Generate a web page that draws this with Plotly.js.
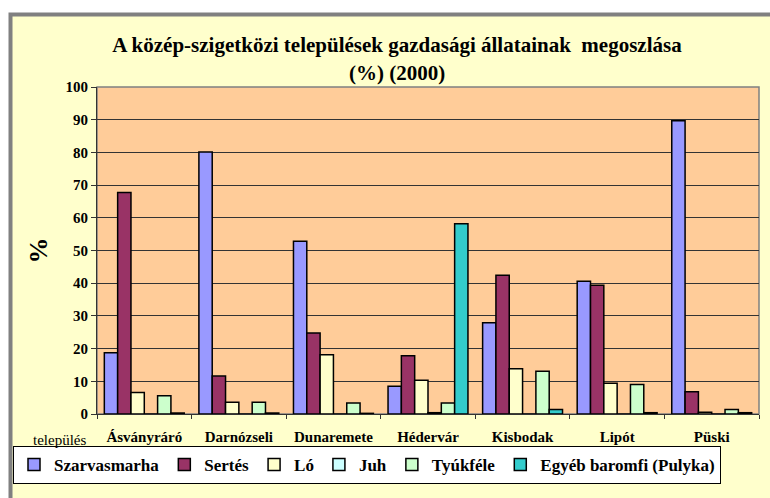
<!DOCTYPE html>
<html>
<head>
<meta charset="utf-8">
<script src="https://cdn.plot.ly/plotly-3.0.1.min.js"></script>
<style>
  html, body { margin: 0; padding: 0; background: #ffffff; }
  #chart { width: 770px; height: 498px; }
</style>
</head>
<body>
<div id="chart"></div>
<script>
// települések (categories)
var telepulesek = ['Ásványráró', 'Darnózseli', 'Dunaremete', 'Hédervár', 'Kisbodak', 'Lipót', 'Püski'];

// állatfajok (series) - values in %
var szarvasmarha = [18.7, 80.1, 52.8, 8.5, 27.9, 40.6, 89.7];
var sertes       = [67.7, 11.6, 24.8, 17.8, 42.4, 39.4, 6.8];
var lo           = [6.6, 3.6, 18.1, 10.3, 13.8, 9.4, 0.5];
var juh          = [0, 0, 0, 0.4, 0, 0, 0];
var tyukfele     = [5.6, 3.6, 3.4, 3.4, 13.1, 9.0, 1.4];
var egyeb        = [0.3, 0.3, 0.2, 58.2, 1.4, 0.4, 0.4];

var seriesNames  = ['Szarvasmarha', 'Sertés', 'Ló', 'Juh', 'Tyúkféle', 'Egyéb baromfi (Pulyka)'];
var seriesColors = ['#9999ff', '#993366', '#ffffcc', '#ccffff', '#ccffcc', '#33cccc'];
var seriesValues = [szarvasmarha, sertes, lo, juh, tyukfele, egyeb];

var fontName = 'Liberation Serif';

var data = seriesValues.map(function (vals, i) {
    return {
        type: 'bar',
        name: seriesNames[i],
        x: telepulesek,
        y: vals,
        marker: {
            color: seriesColors[i],
            line: { color: '#000000', width: 1.5 }
        },
        hoverinfo: 'x+y+name'
    };
});

// plot area in pixels: x 97..759, y 87..414
var layout = {
    width: 770,
    height: 498,
    margin: { l: 97, r: 11, t: 87, b: 84 },
    paper_bgcolor: '#ffffff',
    plot_bgcolor: 'rgba(0,0,0,0)',
    font: { family: fontName, color: '#000000' },
    barmode: 'group',
    bargap: 0.155,
    bargroupgap: 0,
    showlegend: true,
    title: {
        text: '<b>A közép-szigetközi települések gazdasági állatainak  megoszlása</b>',
        font: { family: fontName, size: 21, color: '#000000' },
        xref: 'container',
        x: 0.5156,
        xanchor: 'center',
        yref: 'container',
        y: 1 - 45 / 498,
        yanchor: 'middle'
    },
    xaxis: {
        type: 'category',
        showline: true,
        linecolor: '#333333',
        linewidth: 1,
        ticks: 'outside',
        tickson: 'boundaries',
        ticklen: 4,
        tickcolor: '#333333',
        ticklabelstandoff: 9,
        tickfont: { family: fontName, size: 15, color: '#000000', weight: 'bold' },
        showgrid: false,
        fixedrange: true
    },
    yaxis: {
        range: [0, 100],
        dtick: 10,
        showline: true,
        linecolor: '#333333',
        linewidth: 1,
        ticks: 'outside',
        ticklen: 5,
        tickcolor: '#333333',
        tickfont: { family: fontName, size: 15, color: '#000000', weight: 'bold' },
        showgrid: true,
        gridcolor: '#333333',
        gridwidth: 1,
        zeroline: false,
        title: {
            text: '<b>%</b>',
            font: { family: fontName, size: 26, color: '#000000' },
            standoff: 10
        },
        fixedrange: true
    },
    legend: {
        orientation: 'h',
        x: (13 - 97) / 662,
        xanchor: 'left',
        y: (414 - 446) / 327,
        yanchor: 'top',
        bgcolor: '#ffffff',
        bordercolor: '#000000',
        borderwidth: 1,
        font: { family: fontName, size: 17, color: '#000000', weight: 'bold' },
        traceorder: 'normal'
    },
    shapes: [
        // outer chart frame (light yellow with grey border)
        {
            type: 'rect', xref: 'paper', yref: 'paper', layer: 'below',
            x0: (10.5 - 97) / 662, x1: (800 - 97) / 662,
            y0: (414 - 540) / 327, y1: (414 - 14.5) / 327,
            fillcolor: '#ffffcc',
            line: { color: '#808080', width: 4 }
        },
        // plot area
        {
            type: 'rect', xref: 'paper', yref: 'paper', layer: 'below',
            x0: 0, x1: 1, y0: 0, y1: 1,
            fillcolor: '#ffcc99',
            line: { color: '#808080', width: 1.5 }
        }
    ],
    annotations: [
        {
            text: '<b>(%) (2000)</b>',
            xref: 'paper', yref: 'paper',
            x: (397 - 97) / 662, xanchor: 'center',
            y: (414 - 73) / 327, yanchor: 'middle',
            showarrow: false,
            font: { family: fontName, size: 21, color: '#000000' }
        },
        {
            text: 'település',
            xref: 'paper', yref: 'paper',
            x: (59.5 - 97) / 662, xanchor: 'center',
            y: (414 - 440) / 327, yanchor: 'middle',
            showarrow: false,
            font: { family: fontName, size: 15, color: '#000000' }
        }
    ]
};

Plotly.newPlot('chart', data, layout, { displayModeBar: false, staticPlot: true });
</script>
</body>
</html>
